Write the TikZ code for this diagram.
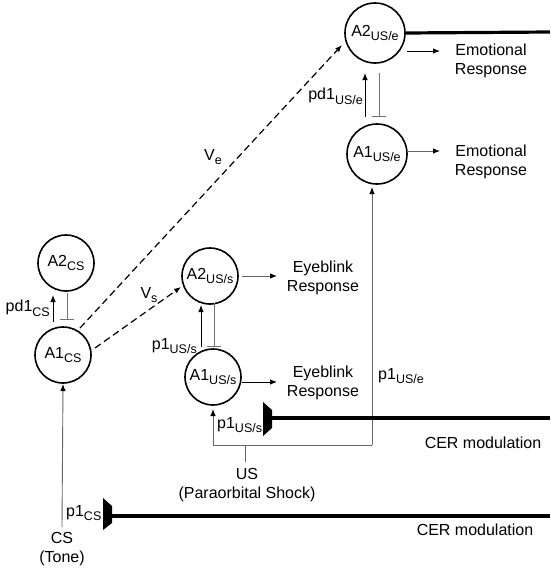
\documentclass[tikz,border=0pt]{standalone}
\usepackage{fontspec}
\setmainfont{Liberation Sans}
\usetikzlibrary{arrows.meta,calc}
\newcommand\sbs[1]{\raisebox{-0.3em}{\fontsize{12.5}{12.5}\selectfont #1}}
\begin{document}
\begin{tikzpicture}[x=1pt,y=-1pt,
  unit/.style={circle,draw,line width=1.6pt,minimum size=#1,inner sep=0pt,font=\fontsize{16}{16}\selectfont},
  unit/.default=56pt,
  lbl/.style={font=\fontsize{16}{19}\selectfont,align=center,inner sep=0pt},
  arr/.style={-{Latex[length=7pt,width=5.5pt]},line width=0.9pt},
  garr/.style={-{Latex[length=7pt,width=5.5pt,black]},line width=0.9pt,draw=black!60},
  inh/.style={-{Bar[width=14pt,line width=1pt]},draw=black!55,line width=1pt},
  dsh/.style={arr,dash pattern=on 7pt off 4pt,line width=1.2pt},
  thick/.style={line width=3.2pt},
  feed/.style={draw=black!60,line width=0.9pt}]
\useasboundingbox (0,0) rectangle (550,568);

% units
\node[unit=60pt] (A2e) at (375,33) {A2\sbs{US/e}};
\node[unit=60pt] (A1e) at (377,154) {A1\sbs{US/e}};
\node[unit] (A2c) at (66,263) {A2\sbs{CS}};
\node[unit] (A1c) at (63,355) {A1\sbs{CS}};
\node[unit] (A2s) at (210,276) {A2\sbs{US/s}};
\node[unit] (A1s) at (213,377) {A1\sbs{US/s}};

% responses
\node[lbl] (R2e) at (491,61) {Emotional\\Response};
\node[lbl] (R1e) at (491,162) {Emotional\\Response};
\node[lbl] (R2s) at (323,278) {Eyeblink\\Response};
\node[lbl] (R1s) at (323,383) {Eyeblink\\Response};

\draw[arr] ($(A2e.center)+(32,18)$) -- ($(A2e.center)+(65,18)$);
\draw[garr] ($(A1e.center)+(30,-3)$) -- ($(A1e.center)+(63,-3)$);
\draw[garr] ($(A2s.center)+(32,0)$) -- ($(A2s.center)+(67,0)$);
\draw[arr] ($(A1s.center)+(29,5)$) -- ($(A1s.center)+(64,5)$);

% thick line from A2e
\draw[thick] (A2e.east) -- (550,32);

% US/e pair
\draw[arr] ($(A1e.center)+(-12,-37)$) -- ($(A1e.center)+(-12,-81)$);
\node[lbl,anchor=east] (pde) at (363,96) {pd1\sbs{US/e}};
\draw[inh] ($(A1e.center)+(2,-81)$) -- ($(A1e.center)+(2,-37)$);

% CS pair
\draw[arr] ($(A1c.center)+(-10,-33)$) -- ($(A1c.center)+(-10,-60)$);
\node[lbl,anchor=east] (pdc) at (50,308) {pd1\sbs{CS}};
\draw[inh] ($(A1c.center)+(4,-62)$) -- ($(A1c.center)+(4,-35)$);

% US/s pair
\draw[arr] ($(A1s.center)+(-12,-30)$) -- ($(A1s.center)+(-12,-72)$);
\node[lbl,anchor=east] (p1s) at (197,346) {p1\sbs{US/s}};
\draw[inh] ($(A1s.center)+(1,-74)$) -- ($(A1s.center)+(1,-30)$);

% dashed associations
\draw[dsh] ($(A1c.center)+(17,-27)$) -- ($(A2e.center)+(-33,12)$);
\node[lbl] (Ve) at (213,157) {V\sbs{e}};
\draw[dsh] ($(A1c.center)+(32,-7)$) -- ($(A2s.center)+(-29,11)$);
\node[lbl] (Vs) at (149,295) {V\sbs{s}};

% US input
\coordinate (usL) at (213,445);
\coordinate (usR) at (372,445);
\coordinate (usM) at (245,445);
\coordinate (usB) at (245,462);
\draw[feed] (usL) -- (usR);
\draw[feed] (usM) -- (usB);
\draw[garr] (usL) -- ($(A1s.center)+(0,32)$);
\draw[garr] (usR) -- ($(A1e.center)+(-5,33)$);
\node[lbl] (US) at (247,485) {US\\(Paraorbital Shock)};
\node[lbl,anchor=west] (p1sb) at (217,425) {p1\sbs{US/s}};
\node[lbl,anchor=west] (p1e) at (378,376) {p1\sbs{US/e}};

% CER modulation (US)
\fill (263,402) -- (272,410) -- (272,428) -- (263,436) -- cycle;
\coordinate (cer1) at (272,418);
\draw[thick] (cer1) -- (550,418);
\node[lbl] (CER1) at (483,443) {CER modulation};

% CS input
\coordinate (csB) at (62,527);
\draw[garr] (csB) -- ($(A1c.center)+(0,29)$);
\node[lbl] (CS) at (62,549) {CS\\(Tone)};
\node[lbl,anchor=west] (p1c) at (66,513) {p1\sbs{CS}};
\fill (103,498) -- (112,506) -- (112,523) -- (103,530) -- cycle;
\coordinate (cer2) at (112,516);
\draw[thick] (cer2) -- (550,516);
\node[lbl] (CER2) at (475,530) {CER modulation};
\end{tikzpicture}
\end{document}
